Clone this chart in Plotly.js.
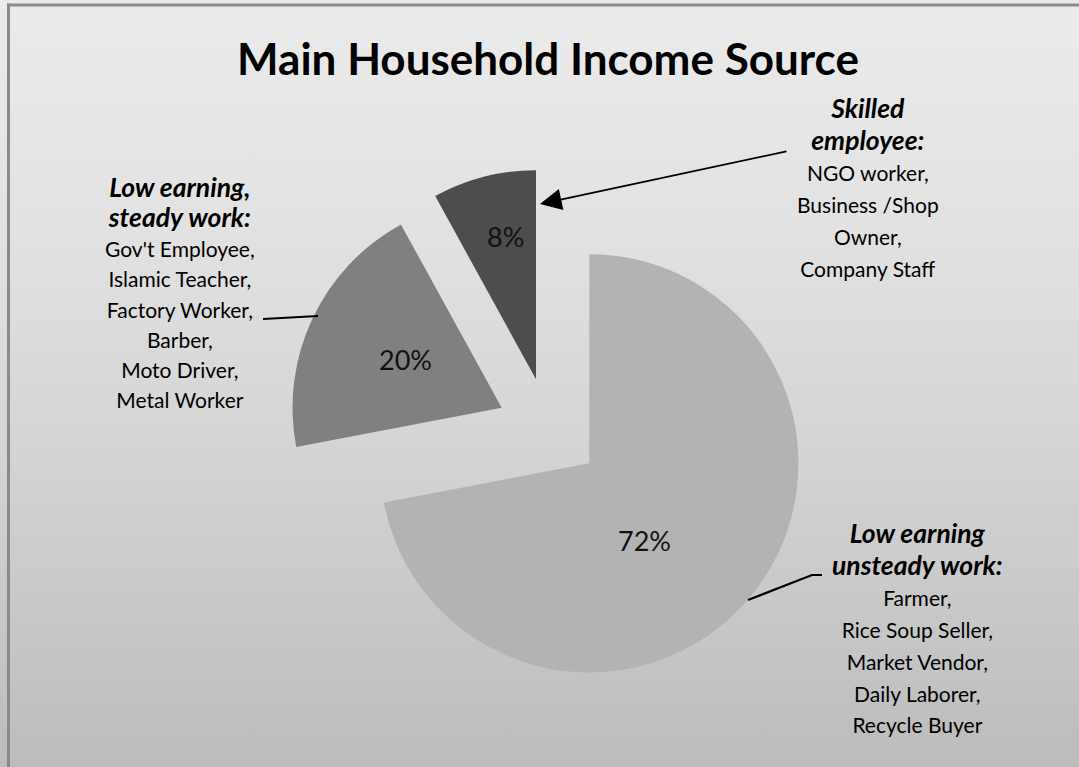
<!DOCTYPE html>
<html>
<head>
<meta charset="utf-8">
<script src="https://cdn.plot.ly/plotly-3.0.1.min.js"></script>
<style>
  html, body { margin: 0; padding: 0; }
  #chart {
    width: 1079px; height: 767px;
    background: linear-gradient(to bottom, #ebebeb 0%, #e2e2e2 30%, #d6d6d6 55%, #c9c9c9 78%, #bcbcbc 100%);
  }
</style>
</head>
<body>
<div id="chart"></div>
<script>
// ---- data ----
const categories = ["Low earning unsteady work", "Low earning, steady work", "Skilled employee"];
const values = [72, 20, 8];
const sliceColors = ["#b3b3b3", "#808080", "#4d4d4d"];
const headers = [["Low earning", "unsteady work:"], ["Low earning,", "steady work:"], ["Skilled", "employee:"]];
const members = [
  ["Farmer,", "Rice Soup Seller,", "Market Vendor,", "Daily Laborer,", "Recycle Buyer"],
  ["Gov't Employee,", "Islamic Teacher,", "Factory Worker,", "Barber,", "Moto Driver,", "Metal Worker"],
  ["NGO worker,", "Business /Shop", "Owner,", "Company Staff"]
];
const chartTitle = "Main Household Income Source";

// ---- layout helpers ----
const W = 1079, H = 767;
const px = x => x / W;
const py = y => 1 - y / H;
const FONT = "Lato, 'Open Sans', sans-serif";

function blockText(i) {
  const h = headers[i].map(t => '<span style="font-size:26.5px"><b><i>' + t + '</i></b></span>');
  const m = members[i].map(t => '<span style="font-size:21px">' + t + '</span>');
  return h.concat(m).join('<br>');
}

const blockPos = [
  {x: 917, y: 627, lh: 24.4},
  {x: 180, y: 291, lh: 23.2},
  {x: 868, y: 186, lh: 24.4}
];
const pctPos = [{x: 644, y: 540}, {x: 405, y: 359}, {x: 505, y: 236}];

const annotations = [];
values.forEach((v, i) => {
  annotations.push({
    xref: 'paper', yref: 'paper', x: px(pctPos[i].x), y: py(pctPos[i].y),
    xanchor: 'center', yanchor: 'middle', showarrow: false,
    text: v + '%', font: {family: FONT, size: 27, color: '#111'}
  });
  annotations.push({
    xref: 'paper', yref: 'paper', x: px(blockPos[i].x), y: py(blockPos[i].y),
    xanchor: 'center', yanchor: 'middle', align: 'center', showarrow: false,
    text: blockText(i), font: {family: FONT, size: blockPos[i].lh, color: '#000'}
  });
});
// arrow to the skilled-employee slice
annotations.push({
  xref: 'paper', yref: 'paper', x: px(540), y: py(204),
  ax: 788 - 540, ay: 151 - 204, axref: 'pixel', ayref: 'pixel',
  text: '', showarrow: true, arrowhead: 2, arrowsize: 2.4, arrowwidth: 1.8,
  arrowcolor: '#000', standoff: 0
});

function pathPaper(pts) {
  return pts.map((p, k) => (k ? 'L' : 'M') + px(p[0]).toFixed(5) + ',' + py(p[1]).toFixed(5)).join(' ');
}

const shapes = [
  // frame (top and left edges)
  {type: 'rect', xref: 'paper', yref: 'paper', x0: px(7), x1: 1, y0: py(6.5), y1: py(3.5),
   fillcolor: '#8a8a8a', line: {width: 0}, layer: 'below'},
  {type: 'rect', xref: 'paper', yref: 'paper', x0: px(7), x1: px(10), y0: 0, y1: py(3.5),
   fillcolor: '#8a8a8a', line: {width: 0}, layer: 'below'},
  // leader lines
  {type: 'path', xref: 'paper', yref: 'paper', path: pathPaper([[263, 319], [318, 316]]),
   line: {color: '#000', width: 2.2}},
  {type: 'path', xref: 'paper', yref: 'paper', path: pathPaper([[748, 600], [812, 575], [822, 575]]),
   line: {color: '#000', width: 2.2}}
];

const trace = {
  type: 'pie',
  labels: categories,
  values: values,
  sort: false,
  direction: 'clockwise',
  rotation: 0,
  pull: [0.25, 0.25, 0.25],
  marker: {colors: sliceColors, line: {width: 0}},
  textinfo: 'none',
  hoverinfo: 'none',
  showlegend: false,
  domain: {x: [0.2660, 0.7516], y: [0.0985, 0.7803]}
};

const layout = {
  width: W, height: H,
  margin: {l: 0, r: 0, t: 0, b: 0},
  paper_bgcolor: 'rgba(0,0,0,0)',
  plot_bgcolor: 'rgba(0,0,0,0)',
  showlegend: false,
  title: {
    text: '<b>' + chartTitle + '</b>',
    font: {family: FONT, size: 44, color: '#000'},
    x: px(548), xanchor: 'center', y: py(60), yanchor: 'middle', yref: 'container'
  },
  annotations: annotations,
  shapes: shapes
};

Plotly.newPlot('chart', [trace], layout, {displayModeBar: false, staticPlot: true});
</script>
</body>
</html>
